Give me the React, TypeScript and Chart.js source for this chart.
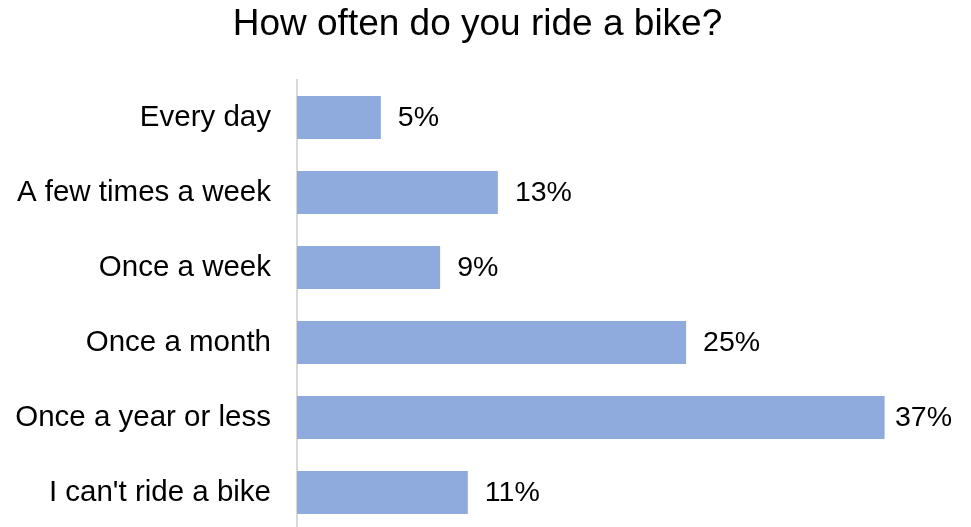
import React, { useEffect, useRef } from "react";
import { Chart, registerables } from "chart.js";

Chart.register(...registerables);

const titleText = "How often do you ride a bike?";
const categories = [
  "Every day",
  "A few times a week",
  "Once a week",
  "Once a month",
  "Once a year or less",
  "I can't ride a bike",
];
const values = [5.3, 12.7, 9.05, 24.6, 37.15, 10.8];
const valueLabels = ["5%", "13%", "9%", "25%", "37%", "11%"];

const FONT = "'Liberation Sans', Arial, sans-serif";

const dataLabelPlugin = {
  id: "dataLabels",
  afterDatasetsDraw(chart: any) {
    const ctx = chart.ctx;
    const meta = chart.getDatasetMeta(0);
    ctx.save();
    ctx.font = `28.5px ${FONT}`;
    ctx.fillStyle = "#000000";
    ctx.textAlign = "left";
    ctx.textBaseline = "middle";
    const limit = chart.width - 19;
    meta.data.forEach((bar: any, i: number) => {
      const w = ctx.measureText(valueLabels[i]).width;
      const x = Math.min(bar.x + 17, limit - w);
      ctx.fillText(valueLabels[i], x, bar.y + 1);
    });
    ctx.restore();
  },
};

export default function App() {
  const ref = useRef<HTMLCanvasElement>(null);
  useEffect(() => {
    document.body.style.margin = "0";
    document.body.style.overflow = "hidden";
    const chart = new Chart(ref.current!, {
      type: "bar",
      data: {
        labels: categories,
        datasets: [
          {
            data: values,
            backgroundColor: "#8faadc",
            borderWidth: 0,
            categoryPercentage: 1,
            barPercentage: 0.573,
          },
        ],
      },
      options: {
        indexAxis: "y",
        animation: false,
        responsive: false,
        layout: { padding: { left: 0, right: 16, top: 0, bottom: 0 } },
        plugins: {
          legend: { display: false },
          tooltip: { enabled: false },
          title: {
            display: true,
            text: titleText,
            color: "#000000",
            font: { family: FONT, size: 37, weight: "normal" },
            padding: { top: 2.5, bottom: 33 },
          },
        },
        scales: {
          x: {
            display: false,
            min: 0,
            max: 41.6,
          },
          y: {
            grid: { display: false, drawTicks: false },
            border: { display: true, color: "#d9d9d9", width: 2 },
            ticks: {
              color: "#000000",
              font: { family: FONT, size: 29.5 },
              padding: 26,
            },
            afterFit(scale: any) {
              scale.width = 297;
              scale.paddingTop = 0;
              scale.paddingBottom = 0;
            },
          },
        },
      },
      plugins: [dataLabelPlugin],
    });
    return () => chart.destroy();
  }, []);
  return (
    <div style={{ width: 971, height: 530 }}>
      <canvas ref={ref} width={971} height={530} style={{ display: "block" }} />
    </div>
  );
}
